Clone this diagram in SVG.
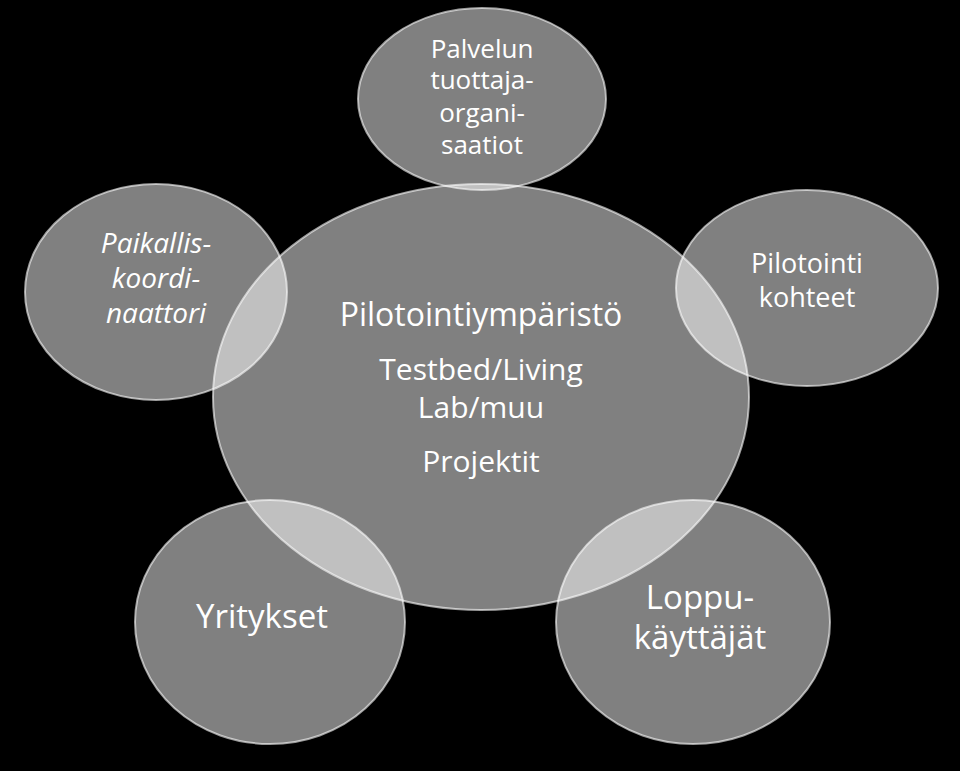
<svg xmlns="http://www.w3.org/2000/svg" width="960" height="771" viewBox="0 0 960 771">
<style>
.c{fill:#fff;fill-opacity:0.5;stroke:#fff;stroke-opacity:0.6;stroke-width:2}
text{fill:#fff;font-family:"Open Sans","DejaVu Sans",sans-serif;text-anchor:middle}
</style>
<rect width="960" height="771" fill="#000"/>
<g id="center"><ellipse class="c" cx="481" cy="397" rx="268" ry="213"/>
<text x="481" y="326" font-size="32">Pilotointiympäristö</text>
<text x="481" y="380" font-size="30">Testbed/Living</text>
<text x="481" y="418" font-size="30">Lab/muu</text>
<text x="481" y="472" font-size="30">Projektit</text></g>
<g id="top"><ellipse class="c" cx="482" cy="99" rx="124" ry="91"/>
<text x="482" y="58" font-size="26">Palvelun</text>
<text x="482" y="89" font-size="26">tuottaja-</text>
<text x="482" y="122" font-size="26">organi-</text>
<text x="482" y="154" font-size="26">saatiot</text></g>
<g id="left"><ellipse class="c" cx="156" cy="292" rx="131" ry="108"/>
<text x="156" y="253" font-size="28" font-style="italic">Paikallis-</text>
<text x="156" y="288" font-size="28" font-style="italic">koordi-</text>
<text x="156" y="323" font-size="28" font-style="italic">naattori</text></g>
<g id="right"><ellipse class="c" cx="807" cy="288" rx="131" ry="98"/>
<text x="807" y="273" font-size="27">Pilotointi</text>
<text x="807" y="307" font-size="27">kohteet</text></g>
<g id="bl"><ellipse class="c" cx="270" cy="622" rx="135" ry="122"/>
<text x="262" y="628" font-size="33">Yritykset</text></g>
<g id="br"><ellipse class="c" cx="693" cy="622" rx="137" ry="122"/>
<text x="700" y="609" font-size="33">Loppu-</text>
<text x="700" y="649" font-size="33">käyttäjät</text></g>
<g id="connectors"/>
</svg>
